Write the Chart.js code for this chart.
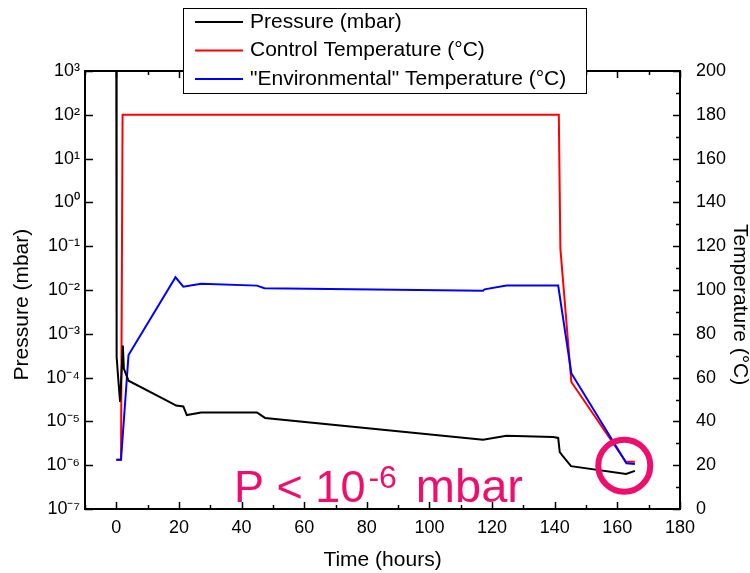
<!DOCTYPE html>
<html><head><meta charset="utf-8">
<script src="https://cdn.jsdelivr.net/npm/chart.js@4/dist/chart.umd.min.js"></script>
<style>html,body{margin:0;padding:0;background:#fff}#wrap{width:750px;height:573px}</style>
</head><body><div id="wrap"><canvas id="c" width="750" height="573"></canvas></div>
<script>
// ---- data ----
const pressureTime   = [0, 0.1, 0.5, 1.2, 2.1, 2.4, 3.9, 16.9, 19.1, 21.4, 22.5, 27.1, 44.9, 47.5, 117.1, 124.6, 139.5, 141.1, 141.6, 142.6, 145.2, 162.8, 165.6];
const pressureValues = [1000, 3e-4, 1.2e-4, 2.8e-5, 5.4e-4, 1.6e-4, 8.5e-5, 2.8e-5, 2.3e-5, 2.2e-5, 1.4e-5, 1.6e-5, 1.6e-5, 1.2e-5, 3.8e-6, 4.7e-6, 4.4e-6, 4.2e-6, 2.0e-6, 1.6e-6, 9.5e-7, 6.3e-7, 7.4e-7];
const controlTime    = [0, 1.5, 2.0, 141.3, 141.8, 145.3, 162.7, 165.6];
const controlTemp    = [22.5, 22.5, 180, 180, 119, 58, 21.6, 21.6];
const envTime        = [0, 1.5, 3.9, 18.9, 21.4, 27.1, 44.9, 47.3, 117.1, 117.6, 124.6, 141.1, 145.3, 162.9, 165.6];
const envTemp        = [22.5, 22.5, 70.3, 105.8, 101.5, 102.9, 102, 100.8, 99.7, 100.3, 102, 102, 62, 20.9, 20.5];
const seriesLabels   = ['Pressure (mbar)', 'Control Temperature (°C)', '"Environmental" Temperature (°C)'];
const seriesColors   = ['#000000', '#ff0000', '#0000ff'];
const timeTicks      = [0, 20, 40, 60, 80, 100, 120, 140, 160, 180];
const pressureExps   = [-7, -6, -5, -4, -3, -2, -1, 0, 1, 2, 3];
const tempTicks      = [0, 20, 40, 60, 80, 100, 120, 140, 160, 180, 200];
const noteMain       = 'P < 10';
const noteExp        = '-6';
const noteUnit       = 'mbar';
const circleAt       = {x: 162.2, t: 19.8};

const FONT = "'Liberation Sans', Arial, Helvetica, sans-serif";
const PINK = '#EE0E6E';
const SUP = {'-':'\u207B','0':'\u2070','1':'\u00B9','2':'\u00B2','3':'\u00B3','4':'\u2074','5':'\u2075','6':'\u2076','7':'\u2077','8':'\u2078','9':'\u2079'};
const sup = s => String(s).split('').map(c => SUP[c] || c).join('');
const PAD = '     '; // shifts the rotated axis titles slightly below the axis centre, as in the reference

const pts = (xs, ys) => xs.map((x, i) => ({x: x, y: ys[i]}));

const framePlugin = {
  id: 'frame',
  afterDatasetsDraw(chart) {
    const {ctx, chartArea: a, scales} = chart;
    ctx.save();
    ctx.strokeStyle = '#000';
    ctx.lineWidth = 2;
    ctx.strokeRect(a.left, a.top, a.right - a.left, a.bottom - a.top);
    ctx.lineWidth = 1.5;
    ctx.beginPath();
    for (let v = -10; v <= 180; v += 10) {
      const px = Math.round(scales.x.getPixelForValue(v)) + 0.5;
      const len = v % 20 === 0 ? 7 : 4;
      ctx.moveTo(px, a.bottom); ctx.lineTo(px, a.bottom - len);
      ctx.moveTo(px, a.top); ctx.lineTo(px, a.top + len);
    }
    pressureExps.forEach(e => {
      const py = Math.round(scales.y.getPixelForValue(Math.pow(10, e))) + 0.5;
      ctx.moveTo(a.left, py); ctx.lineTo(a.left + 8, py);
    });
    for (let t = 0; t <= 200; t += 10) {
      const py = Math.round(scales.y2.getPixelForValue(t)) + 0.5;
      const len = t % 20 === 0 ? 7 : 4;
      ctx.moveTo(a.right, py); ctx.lineTo(a.right - len, py);
    }
    ctx.stroke();

    // annotation circle
    const cx = scales.x.getPixelForValue(circleAt.x);
    const cy = scales.y2.getPixelForValue(circleAt.t);
    ctx.strokeStyle = PINK;
    ctx.lineWidth = 6;
    ctx.beginPath();
    ctx.arc(cx, cy, 26, 0, Math.PI * 2);
    ctx.stroke();

    // annotation text
    const tx = scales.x.getPixelForValue(37.6);
    const ty = scales.y2.getPixelForValue(3.3);
    ctx.fillStyle = PINK;
    ctx.textBaseline = 'alphabetic';
    ctx.textAlign = 'left';
    ctx.font = '45px ' + FONT;
    ctx.fillText(noteMain, tx, ty);
    const w = ctx.measureText(noteMain).width;
    ctx.font = '32px ' + FONT;
    ctx.fillText(noteExp, tx + w + 3, ty - 14);
    const w2 = ctx.measureText(noteExp).width;
    ctx.font = '47px ' + FONT;
    ctx.fillText(noteUnit, tx + w + 3 + w2 + 19, ty);
    ctx.restore();
  },
  afterDraw(chart) {
    const {ctx} = chart;
    ctx.save();
    const bx = 183, by = 8, bw = 403, bh = 85;
    ctx.fillStyle = '#fff';
    ctx.fillRect(bx, by, bw, bh);
    ctx.strokeStyle = '#000';
    ctx.lineWidth = 1;
    ctx.strokeRect(bx + 0.5, by + 0.5, bw, bh);
    ctx.font = '21px ' + FONT;
    ctx.textBaseline = 'middle';
    ctx.textAlign = 'left';
    chart.data.datasets.forEach((ds, i) => {
      const y = 22 + i * 28.5;
      ctx.strokeStyle = ds.borderColor;
      ctx.lineWidth = 2;
      ctx.beginPath();
      ctx.moveTo(195, y); ctx.lineTo(243, y);
      ctx.stroke();
      ctx.fillStyle = '#000';
      ctx.fillText(ds.label, 250, y);
    });
    ctx.restore();
  }
};

new Chart(document.getElementById('c'), {
  type: 'line',
  data: {
    datasets: [
      {label: seriesLabels[0], data: pts(pressureTime, pressureValues), yAxisID: 'y', borderColor: seriesColors[0], order: 0},
      {label: seriesLabels[1], data: pts(controlTime, controlTemp), yAxisID: 'y2', borderColor: seriesColors[1], order: 2},
      {label: seriesLabels[2], data: pts(envTime, envTemp), yAxisID: 'y2', borderColor: seriesColors[2], order: 1}
    ]
  },
  options: {
    responsive: false,
    animation: false,
    devicePixelRatio: 1,
    layout: {padding: {top: 71, left: 0, right: 0, bottom: 0}},
    elements: {
      line: {borderWidth: 2, tension: 0, fill: false},
      point: {radius: 0, hoverRadius: 0}
    },
    plugins: {legend: {display: false}, tooltip: {enabled: false}},
    scales: {
      x: {
        type: 'linear', position: 'bottom', min: -10, max: 180,
        afterBuildTicks: s => { s.ticks = timeTicks.map(v => ({value: v})); },
        afterFit: s => { s.height = 64; },
        grid: {display: false, drawTicks: false},
        border: {display: false},
        ticks: {color: '#000', font: {family: FONT, size: 18}, padding: 8, maxRotation: 0, autoSkip: false},
        title: {display: true, text: 'Time (hours)', color: '#000', font: {family: FONT, size: 21}, padding: {top: 0, bottom: 0}}
      },
      y: {
        type: 'logarithmic', position: 'left', min: 1e-7, max: 1e3,
        afterBuildTicks: s => { s.ticks = pressureExps.map(e => ({value: Math.pow(10, e)})); },
        afterFit: s => { s.width = 85; },
        grid: {display: false, drawTicks: false},
        border: {display: false},
        ticks: {color: '#000', font: {family: FONT, size: 18}, padding: 5, autoSkip: false,
                callback: v => '10' + sup(Math.round(Math.log10(v)))},
        title: {display: true, text: 'Pressure (mbar)' + PAD, color: '#000', font: {family: FONT, size: 21}, padding: {top: 10, bottom: 0}}
      },
      y2: {
        type: 'linear', position: 'right', min: 0, max: 200,
        afterBuildTicks: s => { s.ticks = tempTicks.map(v => ({value: v})); },
        afterFit: s => { s.width = 70; },
        grid: {display: false, drawTicks: false},
        border: {display: false},
        ticks: {color: '#000', font: {family: FONT, size: 18}, padding: 16, autoSkip: false},
        title: {display: true, text: PAD + 'Temperature (°C)', color: '#000', font: {family: FONT, size: 21, lineHeight: 1}, padding: {top: 0, bottom: 0}}
      }
    }
  },
  plugins: [framePlugin]
});
</script>
</body></html>
